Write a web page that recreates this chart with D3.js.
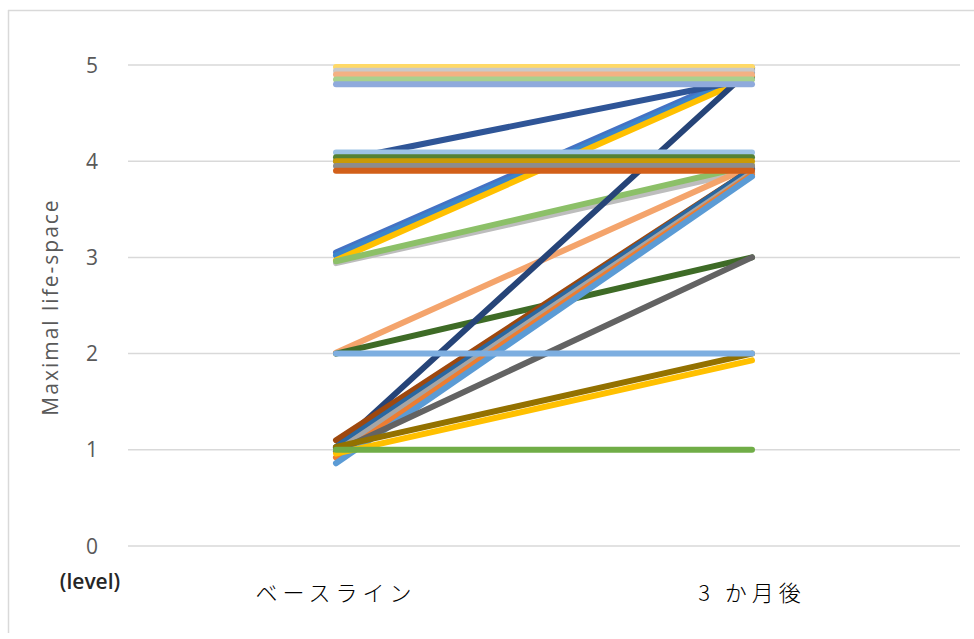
<!DOCTYPE html>
<html>
<head>
<meta charset="utf-8">
<script src="https://cdn.jsdelivr.net/npm/d3@7"></script>
<style>
  body { margin: 0; background: #fff; }
  svg { display: block; }
</style>
</head>
<body>
<div id="chart"></div>
<script>
// categories and tick labels
const categories = ['ベースライン', '3 か月後'];
const yTicks = [0, 1, 2, 3, 4, 5];

// one row per participant: level at baseline, level after 3 months (values jittered as in the source)
const baseline = [
  3.05, 3.02, 2.97, 2.94, 2.96, 2.01, 2.0,
  1.02, 1.10, 1.03, 0.98, 0.92, 0.86, 0.98, 1.03, 0.96, 4.0,
  4.98, 4.94, 4.90, 4.85, 4.80,
  4.09, 4.04, 4.0, 3.95, 3.90,
  2.0, 1.0
];
const after3m = [
  4.95, 4.92, 4.88, 3.91, 3.96, 3.95, 3.0,
  4.97, 3.92, 3.92, 3.88, 3.86, 3.84, 3.0, 2.0, 1.93, 4.86,
  4.98, 4.94, 4.90, 4.85, 4.80,
  4.09, 4.04, 4.0, 3.95, 3.90,
  2.0, 1.0
];
const colors = [
  '#4472C4', '#3A85CC', '#FFC000', '#BDBDBD', '#8CC068', '#F4A46C', '#3E6B26',
  '#264478', '#9E480E', '#2A67A0', '#A5A5A5', '#ED7D31', '#5B9BD5', '#636363', '#937100', '#FFC000', '#2F5597',
  '#FFD966', '#C9C9C9', '#F4B183', '#A9D18E', '#8FAADC',
  '#9DC3E6', '#548235', '#C99A06', '#8C8C8C', '#D2601A',
  '#7DAEE0', '#70AD47'
];

const width = 974, height = 639;
const svg = d3.select('#chart').append('svg')
    .attr('width', width)
    .attr('height', height);

// chart frame
svg.append('line').attr('x1', 8.5).attr('x2', 8.5).attr('y1', 10).attr('y2', 633)
  .attr('stroke', '#D9D9D9').attr('stroke-width', 1.5);
svg.append('line').attr('x1', 8).attr('x2', 974).attr('y1', 10.5).attr('y2', 10.5)
  .attr('stroke', '#D9D9D9').attr('stroke-width', 1.5);

// Scales
const x = d3.scalePoint()
  .domain(categories)
  .range([128, 960])
  .padding(0.5);

const y = d3.scaleLinear()
  .domain([0, 5])
  .range([546, 65]);

// gridlines
svg.append('g')
  .selectAll('line')
  .data(yTicks)
  .join('line')
    .attr('x1', 128)
    .attr('x2', 960)
    .attr('y1', d => y(d))
    .attr('y2', d => y(d))
    .attr('stroke', '#D9D9D9')
    .attr('stroke-width', 1.5);

// y tick labels
svg.append('g')
  .selectAll('text')
  .data(yTicks)
  .join('text')
    .attr('x', 98)
    .attr('y', d => y(d))
    .attr('dy', '0.36em')
    .attr('text-anchor', 'end')
    .attr('fill', '#595959')
    .style('font-family', '"Open Sans", "Noto Sans", sans-serif')
    .style('font-size', '21px')
    .text(d => d);

svg.append('text')
  .attr('x', 90)
  .attr('y', 589)
  .attr('text-anchor', 'middle')
  .attr('fill', '#262626')
  .style('font-family', '"Open Sans", "Noto Sans", sans-serif')
  .style('font-size', '21px')
  .style('font-weight', 600)
  .text('(level)');

// y title
svg.append('text')
  .attr('transform', 'translate(58,307) rotate(-90)')
  .attr('text-anchor', 'middle')
  .attr('fill', '#595959')
  .style('font-family', '"Open Sans", "Noto Sans", sans-serif')
  .style('font-size', '21px')
  .style('letter-spacing', '2px')
  .text('Maximal life-space');

// category labels
svg.append('g')
  .selectAll('text')
  .data(categories)
  .join('text')
    .attr('x', d => x(d))
    .attr('y', 601)
    .attr('text-anchor', 'middle')
    .attr('fill', '#000')
    .style('font-family', '"Noto Sans CJK JP", sans-serif')
    .style('font-size', '22px')
    .style('font-weight', 300)
    .style('letter-spacing', '5px')
    .text(d => d);

// Data
const rows = baseline.map((b, i) => ({ b, a: after3m[i], color: colors[i] }));
// sloped lines first, flat lines drawn over them
const ordered = rows.filter(d => d.b !== d.a).concat(rows.filter(d => d.b === d.a));

const line = d3.line()
  .x(d => x(d[0]))
  .y(d => y(d[1]));

svg.append('g')
  .selectAll('path')
  .data(ordered)
  .join('path')
    .attr('d', d => line([[categories[0], d.b], [categories[1], d.a]]))
    .attr('fill', 'none')
    .attr('stroke', d => d.color)
    .attr('stroke-width', 6)
    .attr('stroke-linecap', 'round');
</script>
</body>
</html>
